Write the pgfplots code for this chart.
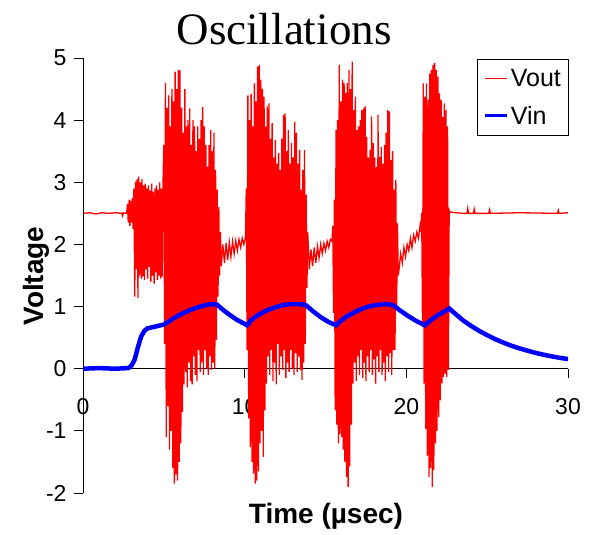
\documentclass[border=0pt]{standalone}
\usepackage{fontspec}
\setmainfont{Liberation Sans}
\newfontfamily\timesfont{Liberation Serif}
\usepackage{pgfplots}
\usepackage{pgfplotstable}
\pgfplotsset{compat=1.18}

\pgfplotstableread{
t v
0.00 2.50
0.40 2.51
0.80 2.49
1.20 2.51
1.60 2.50
2.00 2.51
2.40 2.50
2.45 2.46
2.50 2.51
2.65 2.50
2.70 2.50
2.75 2.65
2.80 2.35
2.85 2.72
2.90 2.30
2.95 2.70
3.00 2.35
3.05 2.75
3.10 2.25
3.15 2.90
3.20 1.16
3.25 3.01
3.30 1.60
3.35 3.05
3.40 1.14
3.45 3.09
3.50 1.50
3.55 3.00
3.60 1.45
3.65 3.05
3.70 1.48
3.75 2.95
3.80 1.43
3.85 2.98
3.90 1.60
3.95 2.90
4.00 1.45
4.05 2.95
4.10 1.64
4.15 2.87
4.20 1.40
4.25 2.98
4.30 1.50
4.35 2.85
4.40 1.37
4.45 2.90
4.50 1.55
4.55 2.95
4.60 1.43
4.65 2.88
4.70 1.50
4.75 3.00
4.80 1.45
4.85 2.90
4.90 1.48
4.95 3.00
5.00 3.60
5.05 0.40
5.10 4.60
5.15 -1.10
5.20 4.20
5.25 -0.60
5.30 4.40
5.35 -1.30
5.40 3.90
5.45 -1.00
5.50 4.50
5.55 -1.60
5.60 4.30
5.65 -1.85
5.70 4.78
5.75 -1.70
5.80 4.50
5.85 -1.80
5.90 4.81
5.95 -1.50
6.00 4.80
6.05 -1.20
6.10 4.20
6.15 -0.70
6.20 3.80
6.25 -0.25
6.30 4.50
6.35 -0.05
6.40 3.90
6.45 -0.30
6.50 4.00
6.55 0.10
6.60 4.19
6.65 -0.20
6.70 3.60
6.75 -0.25
6.80 4.00
6.85 0.20
6.90 3.90
6.95 -0.10
7.00 3.50
7.05 -0.20
7.10 3.90
7.15 0.30
7.20 3.70
7.25 -0.05
7.30 4.00
7.35 0.10
7.40 4.21
7.45 -0.10
7.50 3.90
7.55 0.30
7.60 3.60
7.65 0.00
7.70 3.25
7.75 -0.10
7.80 3.60
7.85 0.20
7.90 3.84
7.95 -0.02
8.00 3.50
8.05 0.10
8.10 3.80
8.15 0.00
8.20 3.20
8.25 0.46
8.30 2.88
8.35 1.16
8.40 2.60
8.45 1.50
8.50 2.20
8.55 1.65
8.65 2.00
8.75 1.70
8.85 2.02
8.95 1.75
9.05 2.03
9.15 1.80
9.25 2.05
9.35 1.85
9.45 2.06
9.55 1.90
9.65 2.08
9.75 1.95
9.85 2.10
9.95 2.00
10.05 2.12
10.10 2.90
10.15 0.30
10.20 4.40
10.25 -0.80
10.30 4.00
10.35 -1.26
10.40 4.42
10.45 -1.50
10.50 3.90
10.55 -1.69
10.60 4.59
10.65 -1.85
10.70 4.30
10.75 -1.80
10.80 4.86
10.85 -1.65
10.90 4.89
10.95 -1.20
11.00 4.65
11.05 -1.00
11.10 4.50
11.15 -1.42
11.20 4.38
11.25 -0.67
11.30 3.90
11.35 -0.24
11.40 4.22
11.45 0.20
11.50 4.27
11.55 -0.10
11.60 3.70
11.65 0.30
11.70 3.95
11.75 -0.20
11.80 3.40
11.85 0.10
11.90 3.68
11.95 -0.25
12.00 3.30
12.05 0.40
12.10 3.47
12.15 -0.10
12.20 3.20
12.25 0.20
12.30 3.70
12.35 -0.02
12.40 4.08
12.45 0.30
12.50 4.11
12.55 -0.15
12.60 3.50
12.65 0.10
12.70 3.84
12.75 -0.05
12.80 3.30
12.85 0.30
12.90 3.63
12.95 0.00
13.00 3.40
13.05 -0.10
13.10 3.97
13.15 0.25
13.20 3.80
13.25 -0.05
13.30 3.30
13.35 0.20
13.40 3.52
13.45 -0.02
13.50 2.88
13.55 -0.18
13.60 3.20
13.65 0.10
13.70 3.52
13.75 0.40
13.80 2.80
13.85 1.30
13.90 2.20
14.00 1.60
14.10 1.92
14.20 1.65
14.30 1.95
14.40 1.70
14.50 1.97
14.60 1.78
14.70 2.00
14.80 1.85
14.90 2.02
15.00 1.90
15.10 2.05
15.20 1.95
15.30 2.08
15.40 2.05
15.45 2.30
15.50 0.90
15.55 2.72
15.60 -0.67
15.65 3.84
15.70 -0.90
15.75 4.00
15.80 -1.20
15.85 4.89
15.90 -1.05
15.95 4.30
16.00 -1.10
16.05 4.65
16.10 -1.30
16.15 4.60
16.20 -1.50
16.25 4.44
16.30 -1.74
16.35 4.60
16.40 -1.90
16.45 4.81
16.50 -1.57
16.55 4.50
16.60 -0.90
16.65 4.94
16.70 -0.24
16.75 4.16
16.80 0.10
16.85 4.38
16.90 -0.20
16.95 3.84
17.00 0.20
17.05 3.90
17.10 -0.10
17.15 4.00
17.20 0.30
17.25 4.16
17.30 -0.15
17.35 4.19
17.40 0.10
17.45 4.22
17.50 -0.20
17.55 3.73
17.60 0.20
17.65 3.40
17.70 -0.05
17.75 3.52
17.80 0.30
17.85 4.06
17.90 -0.10
17.95 3.63
18.00 0.15
18.05 3.40
18.10 -0.24
18.15 3.25
18.20 0.20
18.25 4.09
18.30 -0.05
18.35 3.41
18.40 0.30
18.45 3.57
18.50 -0.10
18.55 3.30
18.60 0.10
18.65 3.60
18.70 -0.20
18.75 3.80
18.80 0.20
18.85 4.16
18.90 -0.05
18.95 4.14
19.00 0.25
19.05 3.36
19.10 -0.10
19.15 3.50
19.20 0.30
19.25 2.88
19.30 0.30
19.35 3.04
19.40 1.00
19.45 2.34
19.50 1.50
19.55 1.60
19.65 1.85
19.75 1.70
19.85 1.95
19.95 1.80
20.05 2.00
20.15 1.90
20.25 2.10
20.35 1.95
20.45 2.15
20.55 2.05
20.65 2.20
20.75 2.10
20.85 2.30
20.90 2.20
20.95 2.51
21.00 0.67
21.05 4.59
21.10 -0.24
21.15 4.38
21.20 -0.97
21.25 4.59
21.30 -1.40
21.35 4.33
21.40 -1.74
21.45 4.75
21.50 -1.60
21.55 4.81
21.60 -1.90
21.65 4.89
21.70 -1.63
21.75 4.92
21.80 -1.20
21.85 4.81
21.90 -1.00
21.95 4.70
22.00 -0.78
22.05 4.43
22.10 -0.51
22.15 4.33
22.20 -0.24
22.25 4.05
22.30 -0.13
22.35 4.27
22.40 -0.08
22.45 4.16
22.50 -0.13
22.55 3.90
22.60 -0.02
22.65 2.55
22.70 2.52
23.50 2.50
23.75 2.50
23.80 2.58
23.85 2.50
24.15 2.50
24.20 2.57
24.25 2.50
25.10 2.50
25.15 2.56
25.20 2.50
27.00 2.51
29.35 2.50
29.40 2.55
29.45 2.50
30.00 2.51
}\vouttable

\pgfplotstableread{
t v
0.00 0.00
1.00 0.01
2.00 0.00
2.80 0.01
3.00 0.05
3.20 0.15
3.40 0.35
3.60 0.52
3.80 0.61
4.00 0.65
4.50 0.68
5.00 0.71
5.30 0.76
5.60 0.81
6.00 0.87
6.50 0.93
7.00 0.98
7.50 1.02
8.00 1.04
8.30 1.03
8.60 0.96
9.00 0.88
9.50 0.79
10.15 0.70
10.40 0.78
10.80 0.86
11.30 0.93
11.80 0.98
12.30 1.02
12.80 1.04
13.40 1.04
13.80 1.02
14.20 0.93
14.70 0.83
15.20 0.75
15.65 0.70
15.90 0.76
16.30 0.84
16.80 0.91
17.30 0.97
17.80 1.01
18.30 1.03
18.80 1.04
19.20 1.02
19.60 0.94
20.10 0.85
20.60 0.77
21.15 0.70
21.50 0.78
22.00 0.87
22.60 0.96
22.65 0.97
23.00 0.89
23.50 0.78
24.00 0.69
24.50 0.61
25.00 0.54
25.50 0.475
26.00 0.42
26.50 0.37
27.00 0.327
27.50 0.29
28.00 0.254
28.50 0.225
29.00 0.198
29.50 0.175
30.00 0.155
}\vintable

\begin{document}
\begin{tikzpicture}
\path[use as bounding box] (0,0) rectangle (589bp,535bp);
\begin{axis}[
  at={(83bp,42bp)}, anchor=south west,
  scale only axis, width=485bp, height=435bp,
  xmin=0, xmax=30, ymin=-2, ymax=5,
  axis x line=middle, axis y line=left,
  every inner x axis line/.append style={-},
  every outer x axis line/.append style={-},
  every inner y axis line/.append style={-},
  every outer y axis line/.append style={-},
  axis line style={black, line width=0.8bp},
  hide obscured x ticks=false, hide obscured y ticks=false,
  xtick={0,10,20,30}, ytick={-2,-1,0,1,2,3,4,5},
  minor tick num=0,
  tick align=outside, major tick length=9bp,
  tick style={black, line width=0.8bp},
  /pgf/number format/assume math mode=true,
  xticklabel style={font=\fontsize{23bp}{26bp}\selectfont, yshift=-17bp},
  yticklabel style={font=\fontsize{23bp}{26bp}\selectfont, xshift=-4bp},
  legend style={at={(0.812,0.998)}, anchor=north west, draw=black,
    line width=0.8bp, fill=white,
    font=\fontsize{25bp}{28bp}\selectfont, inner xsep=6bp, inner ysep=8bp, row sep=14bp},
  legend cell align=left,
  legend image post style={xscale=1.3},
  clip=true,
]
\addplot[red, line width=1.3bp, forget plot] table[x=t, y=v] {\vouttable};
\addplot[blue, line width=4.5bp, forget plot] table[x=t, y=v] {\vintable};
\addlegendimage{red, line width=0.8bp}
\addlegendentry{Vout}
\addlegendimage{blue, line width=3.5bp}
\addlegendentry{Vin}
\end{axis}
\node[anchor=base, font=\timesfont\fontsize{45bp}{50bp}\selectfont] at (284bp,490bp) {Oscillations};
\node[anchor=base, font=\bfseries\fontsize{28bp}{32bp}\selectfont] at (326bp,12bp) {Time (µsec)};
\node[anchor=base, rotate=90, font=\bfseries\fontsize{28bp}{32bp}\selectfont] at (43bp,259bp) {Voltage};
\end{tikzpicture}
\end{document}
